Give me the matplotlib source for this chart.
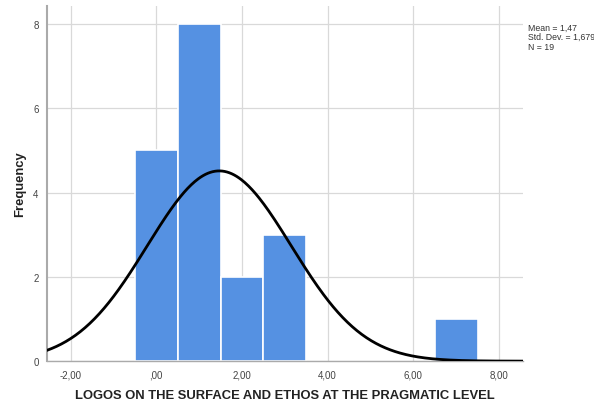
import numpy as np
import matplotlib.pyplot as plt

plt.rcParams['font.family'] = ['Liberation Sans', 'DejaVu Sans']

# histogram bins (centre of each bin, width 1) and counts
bin_centers = [0, 1, 2, 3, 7]
counts = [5, 8, 2, 3, 1]
mean = 1.47
std = 1.679
n = 19
xticks = [-2, 0, 2, 4, 6, 8]
xticklabels = ["-2,00", ",00", "2,00", "4,00", "6,00", "8,00"]
yticks = [0, 2, 4, 6, 8]

fig = plt.figure(figsize=(5.94, 4.06), dpi=100)
ax = fig.add_axes([0.079, 0.108, 0.801, 0.875])

ax.bar(bin_centers, counts, width=1.0, color="#5591e2", edgecolor="white",
       linewidth=1.2, zorder=2)

# fitted normal curve, scaled to counts
xs = np.linspace(-2.55, 8.55, 400)
ys = n * 1.0 / (std * np.sqrt(2 * np.pi)) * np.exp(-0.5 * ((xs - mean) / std) ** 2)
ax.plot(xs, ys, color="black", lw=2.0, zorder=3)

ax.set_xlim(-2.55, 8.55)
ax.set_ylim(0, 8.43)
ax.set_xticks(xticks)
ax.set_xticklabels(xticklabels)
ax.set_yticks(yticks)
ax.tick_params(length=0, labelsize=7, labelcolor="#444444", pad=6)
ax.grid(True, color="#d9d9d9", lw=0.9, zorder=0)
ax.set_axisbelow(True)

for s in ["top", "right"]:
    ax.spines[s].set_visible(False)
ax.spines["left"].set_color("#aaaaaa")
ax.spines["left"].set_linewidth(1.5)
ax.spines["bottom"].set_color("#aaaaaa")
ax.spines["bottom"].set_linewidth(1.0)

ax.set_xlabel("LOGOS ON THE SURFACE AND ETHOS AT THE PRAGMATIC LEVEL",
              fontsize=9.4, fontweight="bold", color="#222222", labelpad=7)
ax.set_ylabel("Frequency", fontsize=9.4, fontweight="bold", color="#222222",
              labelpad=5)

fig.text(0.889, 0.942, "Mean = 1,47\nStd. Dev. = 1,679\nN = 19",
         fontsize=6.3, color="#333333", va="top", ha="left", linespacing=1.1)

fig.savefig("out.png", dpi=100)
